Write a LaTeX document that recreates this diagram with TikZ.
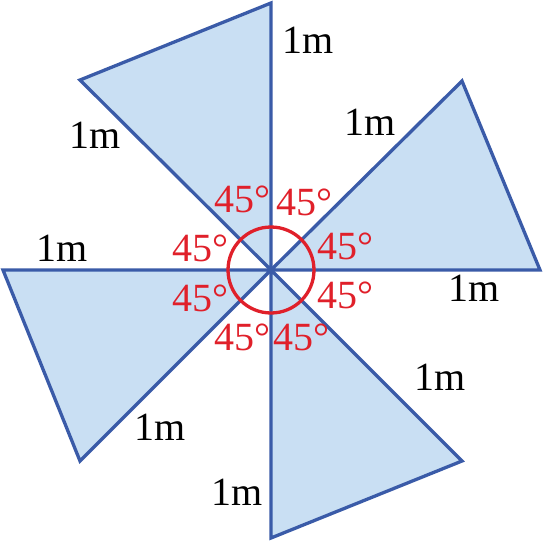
\documentclass[tikz,border=0pt]{standalone}
\usepackage{fontspec}
\setmainfont{Liberation Serif}
\definecolor{edgeblue}{HTML}{3A5BA8}
\definecolor{fillblue}{HTML}{C9DFF3}
\definecolor{anglered}{HTML}{E0202A}
\tikzset{
  blade/.style={draw=edgeblue, fill=fillblue, line width=3.3pt, line join=miter},
  lenlabel/.style={inner sep=0pt, font=\fontsize{40}{44}\selectfont, text=black},
  anglabel/.style={inner sep=0pt, font=\fontsize{40}{44}\selectfont, text=anglered},
  ring/.style={draw=anglered, line width=3.3pt}
}
\begin{document}
\begin{tikzpicture}[x=1pt,y=-1pt]
\useasboundingbox (0,0) rectangle (543,541);
\coordinate (O) at (271,270);
\coordinate (N) at (271,3);
\coordinate (NW) at (80,80);
\coordinate (E) at (540,270);
\coordinate (NE) at (462,81);
\coordinate (S) at (271,538);
\coordinate (SE) at (462,461);
\coordinate (W) at (3,270);
\coordinate (SW) at (80,461);
\draw[blade] (O) -- (N) -- (NW) -- cycle;
\draw[blade] (O) -- (E) -- (NE) -- cycle;
\draw[blade] (O) -- (S) -- (SE) -- cycle;
\draw[blade] (O) -- (W) -- (SW) -- cycle;
\draw[ring] (O) circle[radius=43];
\node[lenlabel] (l1) at (308,40) {1m};
\node[lenlabel] (l2) at (95,135) {1m};
\node[lenlabel] (l3) at (370,122) {1m};
\node[lenlabel] (l4) at (474,288) {1m};
\node[lenlabel] (l5) at (440,377) {1m};
\node[lenlabel] (l6) at (237,492) {1m};
\node[lenlabel] (l7) at (62,248) {1m};
\node[lenlabel] (l8) at (160,427) {1m};
\node[anglabel] (a1) at (242,199) {45°};
\node[anglabel] (a2) at (304,202) {45°};
\node[anglabel] (a3) at (200,248) {45°};
\node[anglabel] (a4) at (345,246) {45°};
\node[anglabel] (a5) at (200,298) {45°};
\node[anglabel] (a6) at (345,295) {45°};
\node[anglabel] (a7) at (242,337) {45°};
\node[anglabel] (a8) at (301,337) {45°};
\end{tikzpicture}
\end{document}
